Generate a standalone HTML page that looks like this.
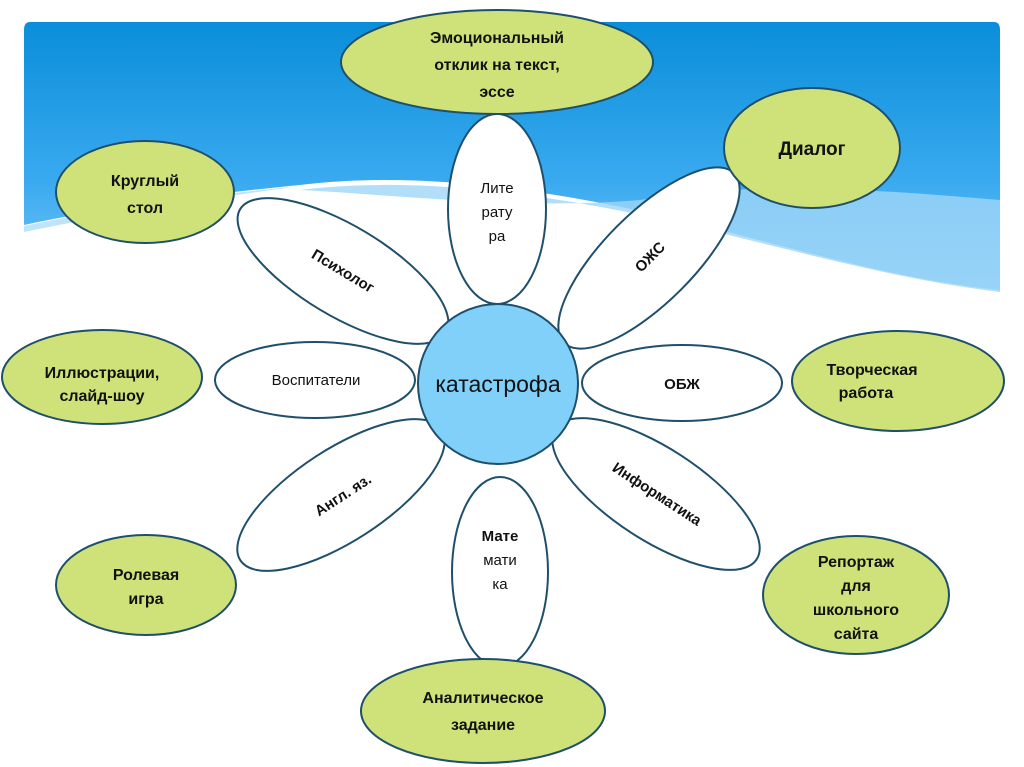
<!DOCTYPE html>
<html><head><meta charset="utf-8"><style>
html,body{margin:0;padding:0;background:#fff;width:1024px;height:767px;overflow:hidden}
svg text{font-family:"Liberation Sans","DejaVu Sans",sans-serif;fill:#111}
</style></head><body>
<svg width="1024" height="767" viewBox="0 0 1024 767" xmlns="http://www.w3.org/2000/svg">
<defs>
<linearGradient id="sky" x1="0" y1="0" x2="0" y2="1">
<stop offset="0" stop-color="#0a8ed9"/><stop offset="0.6" stop-color="#3aaaf0"/><stop offset="1" stop-color="#7cc8f5"/>
</linearGradient>
</defs>
<path d="M30,22 H994 Q1000,22 1000,30 V290 C900,280 800,250 700,225 C560,190 420,170 300,185 C200,195 120,205 24,225 V30 Q24,22 30,22 Z" fill="url(#sky)"/>
<path d="M300,190 C420,175 560,195 700,228 C800,252 900,280 1000,292 V200 C880,190 760,180 640,200 C520,210 400,195 300,190 Z" fill="#9fd6f7" opacity="0.8"/>
<path d="M24,226 C120,206 200,196 300,186 C200,200 120,212 24,232 Z" fill="#bfe4fa"/>
<g stroke="#1f4f6b" stroke-width="2" fill="#fff">
<ellipse cx="497" cy="209" rx="49" ry="95"/>
<ellipse cx="343" cy="271" rx="120" ry="45" transform="rotate(31 343 271)"/>
<ellipse cx="649" cy="258" rx="120" ry="45" transform="rotate(-45 649 258)"/>
<ellipse cx="315" cy="380" rx="100" ry="38"/>
<ellipse cx="682" cy="383" rx="100" ry="38"/>
<ellipse cx="341" cy="495" rx="120" ry="46" transform="rotate(-33 341 495)"/>
<ellipse cx="656" cy="494" rx="120" ry="46" transform="rotate(33 656 494)"/>
<ellipse cx="500" cy="572" rx="48" ry="95"/>
</g>
<circle cx="498" cy="384" r="80" fill="#80d0fa" stroke="#1f4f6b" stroke-width="2"/>
<g stroke="#1f4f6b" stroke-width="2" fill="#cfe27a">
<ellipse cx="497" cy="62" rx="156" ry="52"/>
<ellipse cx="812" cy="148" rx="88" ry="60"/>
<ellipse cx="145" cy="192" rx="89" ry="51"/>
<ellipse cx="102" cy="377" rx="100" ry="47"/>
<ellipse cx="898" cy="381" rx="106" ry="50"/>
<ellipse cx="146" cy="585" rx="90" ry="50"/>
<ellipse cx="856" cy="595" rx="93" ry="59"/>
<ellipse cx="483" cy="711" rx="122" ry="52"/>
</g>
<g font-size="16" font-weight="bold" text-anchor="middle">
<text x="497" y="43">Эмоциональный</text>
<text x="497" y="70">отклик на текст,</text>
<text x="497" y="97">эссе</text>
<text x="812" y="155" font-size="19">Диалог</text>
<text x="145" y="186">Круглый</text>
<text x="145" y="213">стол</text>
<text x="102" y="378">Иллюстрации,</text>
<text x="102" y="401">слайд-шоу</text>
<text x="872" y="375">Творческая</text>
<text x="866" y="398">работа</text>
<text x="146" y="580">Ролевая</text>
<text x="146" y="604">игра</text>
<text x="856" y="567">Репортаж</text>
<text x="856" y="591">для</text>
<text x="856" y="615">школьного</text>
<text x="856" y="639">сайта</text>
<text x="483" y="703">Аналитическое</text>
<text x="483" y="730">задание</text>
</g>
<g font-size="15" text-anchor="middle">
<text x="497" y="193">Лите</text>
<text x="497" y="217">рату</text>
<text x="497" y="241">ра</text>
<text x="500" y="541" font-weight="bold">Мате</text>
<text x="500" y="565">мати</text>
<text x="500" y="589">ка</text>
<text x="316" y="385">Воспитатели</text>
<text x="682" y="389" font-weight="bold">ОБЖ</text>
<text x="343" y="276" font-weight="bold" transform="rotate(31 343 271)">Психолог</text>
<text x="650" y="262" font-weight="bold" transform="rotate(-45 650 257)">ОЖС</text>
<text x="343" y="500" font-weight="bold" transform="rotate(-33 343 495)">Англ. яз.</text>
<text x="657" y="499" font-weight="bold" transform="rotate(33 657 494)">Информатика</text>
</g>
<text x="498" y="392" font-size="23" text-anchor="middle">катастрофа</text>
</svg>
</body></html>
